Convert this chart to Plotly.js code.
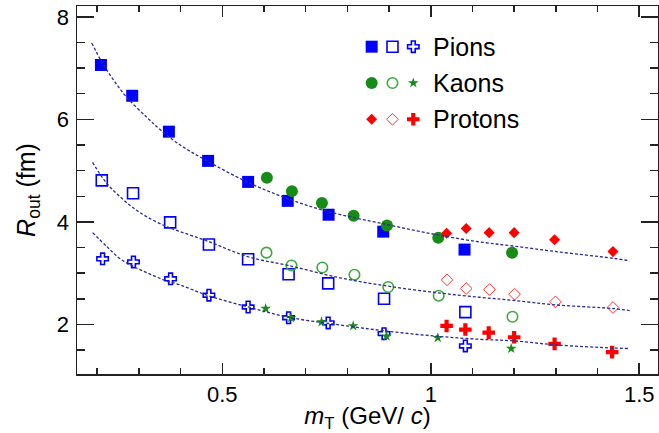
<!DOCTYPE html>
<html>
<head>
<meta charset="utf-8">
<script src="https://cdn.plot.ly/plotly-3.0.1.min.js"></script>
<style>html,body{margin:0;padding:0;background:#fff}#chart{width:659px;height:433px}</style>
</head>
<body>
<div id="chart"></div>
<script>
// ---- data ----
const pionsFilledX = [0.209, 0.284, 0.372, 0.466, 0.562, 0.657, 0.755, 0.886, 1.081];
const pionsFilledY = [7.06, 6.46, 5.76, 5.19, 4.78, 4.41, 4.14, 3.81, 3.46];
const pionsOpenX   = [0.211, 0.286, 0.375, 0.468, 0.562, 0.659, 0.754, 0.888, 1.083];
const pionsOpenY   = [4.81, 4.56, 3.99, 3.56, 3.27, 2.98, 2.80, 2.50, 2.24];
const pionsCrossX  = [0.213, 0.287, 0.376, 0.468, 0.562, 0.659, 0.754, 0.888, 1.083];
const pionsCrossY  = [3.28, 3.22, 2.89, 2.57, 2.34, 2.13, 2.03, 1.82, 1.58];

const kaonsFilledX = [0.607, 0.667, 0.739, 0.815, 0.895, 1.018, 1.195];
const kaonsFilledY = [4.86, 4.60, 4.37, 4.12, 3.93, 3.69, 3.40];
const kaonsOpenX   = [0.606, 0.666, 0.740, 0.817, 0.898, 1.019, 1.196];
const kaonsOpenY   = [3.40, 3.15, 3.11, 2.97, 2.73, 2.56, 2.15];
const kaonsStarX   = [0.604, 0.665, 0.738, 0.814, 0.894, 1.017, 1.193];
const kaonsStarY   = [2.31, 2.13, 2.05, 1.97, 1.77, 1.74, 1.53];

const protonsFilledX = [1.038, 1.085, 1.140, 1.200, 1.297, 1.437];
const protonsFilledY = [3.78, 3.87, 3.79, 3.79, 3.65, 3.42];
const protonsOpenX   = [1.039, 1.085, 1.141, 1.201, 1.299, 1.437];
const protonsOpenY   = [2.87, 2.70, 2.68, 2.59, 2.44, 2.33];
const protonsCrossX  = [1.038, 1.083, 1.139, 1.200, 1.297, 1.435];
const protonsCrossY  = [1.97, 1.90, 1.84, 1.75, 1.62, 1.46];

const fitTopX = [0.187, 0.211, 0.239, 0.271, 0.319, 0.351, 0.399, 0.461, 0.562, 0.658, 0.754, 0.894, 1.014, 1.117, 1.197, 1.301, 1.437, 1.477];
const fitTopY = [7.49, 7.12, 6.77, 6.43, 6.04, 5.80, 5.50, 5.20, 4.77, 4.45, 4.20, 3.95, 3.75, 3.61, 3.53, 3.42, 3.29, 3.24];
const fitMidX = [0.189, 0.223, 0.255, 0.287, 0.319, 0.363, 0.399, 0.463, 0.562, 0.658, 0.782, 0.894, 1.014, 1.117, 1.197, 1.301, 1.437, 1.477];
const fitMidY = [5.16, 4.75, 4.49, 4.27, 4.10, 3.92, 3.81, 3.63, 3.32, 3.15, 2.91, 2.75, 2.62, 2.53, 2.47, 2.38, 2.31, 2.27];
const fitLowX = [0.189, 0.223, 0.255, 0.287, 0.319, 0.359, 0.399, 0.463, 0.562, 0.659, 0.782, 0.894, 1.014, 1.117, 1.197, 1.301, 1.437, 1.477];
const fitLowY = [3.79, 3.52, 3.28, 3.13, 3.01, 2.87, 2.77, 2.57, 2.34, 2.14, 1.99, 1.87, 1.77, 1.71, 1.68, 1.60, 1.54, 1.53];

const speciesNames = ['Pions', 'Kaons', 'Protons'];

// ---- styles ----
const FONT = 'Liberation Sans, Arial, sans-serif';
const BLUE = '#0000ff', GREEN = '#168c16', LGREEN = '#3daa3d', RED = '#ff0000';
const styles = [
  [ {symbol:'square', size:12, color:BLUE, line:{width:0}},
    {symbol:'square-open', size:11, color:BLUE, line:{width:1.6, color:BLUE}},
    {symbol:'cross-open', size:9.5, color:BLUE, line:{width:1.6, color:BLUE}} ],
  [ {symbol:'circle', size:12, color:GREEN, line:{width:0}},
    {symbol:'circle-open', size:10.5, color:LGREEN, line:{width:1.6, color:LGREEN}},
    {symbol:'star', size:8, color:GREEN, line:{width:0}} ],
  [ {symbol:'diamond', size:8.5, color:RED, line:{width:0}},
    {symbol:'diamond-open', size:9, color:'#ff3333', line:{width:1, color:'#ff3333'}},
    {symbol:'cross', size:10.5, color:RED, line:{width:0}} ]
];
const seriesX = [[pionsFilledX, pionsOpenX, pionsCrossX],[kaonsFilledX, kaonsOpenX, kaonsStarX],[protonsFilledX, protonsOpenX, protonsCrossX]];
const seriesY = [[pionsFilledY, pionsOpenY, pionsCrossY],[kaonsFilledY, kaonsOpenY, kaonsStarY],[protonsFilledY, protonsOpenY, protonsCrossY]];

const traces = [];
for (let s = 0; s < 3; s++) {
  for (let k = 0; k < 3; k++) {
    traces.push({x: seriesX[s][k], y: seriesY[s][k], type:'scatter', mode:'markers',
      marker: styles[s][k], showlegend:false, hoverinfo:'x+y', cliponaxis:false});
  }
}
const fits = [[fitTopX, fitTopY],[fitMidX, fitMidY],[fitLowX, fitLowY]];
fits.forEach(f => traces.push({x:f[0], y:f[1], type:'scatter', mode:'lines',
  line:{color:'#2b2b96', width:1.3, dash:'3px,2px', shape:'spline', smoothing:1},
  showlegend:false, hoverinfo:'skip'}));

// legend block drawn on a hidden helper axis (column index x row index)
const annotations = [];
for (let s = 0; s < 3; s++) {
  for (let k = 0; k < 3; k++) {
    traces.push({x:[k], y:[s], xaxis:'x2', yaxis:'y2', type:'scatter', mode:'markers',
      marker: styles[s][k], showlegend:false, hoverinfo:'skip'});
  }
  annotations.push({xref:'x2', yref:'y2', x:2.85, y:s, text:speciesNames[s], showarrow:false,
    xanchor:'left', yanchor:'middle', font:{family:FONT, size:25, color:'#000'}});
}

const axisCommon = {
  showline:true, linecolor:'#222', linewidth:1.5, mirror:'ticks', ticks:'inside',
  tickcolor:'#222', tickwidth:1.5, showgrid:false, zeroline:false,
  tickfont:{family:FONT, size:22, color:'#000'}
};

const layout = {
  width:659, height:433,
  margin:{l:77, r:1, t:6, b:59},
  paper_bgcolor:'#fff', plot_bgcolor:'rgba(0,0,0,0)',
  font:{family:FONT, color:'#000'},
  showlegend:false,
  xaxis: Object.assign({}, axisCommon, {
    range:[0.1516, 1.545], tick0:0, dtick:0.5, ticklen:11,
    minor:{dtick:0.1, ticklen:6, tickwidth:1.5, tickcolor:'#222', ticks:'inside'},
    ticklabelstandoff:0,
    title:{text:'<i>m</i><sub>T</sub> (GeV/ <i>c</i>)', font:{family:FONT, size:24, color:'#000'}, standoff:8}
  }),
  yaxis: Object.assign({}, axisCommon, {
    range:[1.033, 8.211], tick0:0, dtick:2, ticklen:17,
    minor:{dtick:0.5, ticklen:8, tickwidth:1.5, tickcolor:'#222', ticks:'inside'},
    ticklabelstandoff:2,
    title:{text:'<i>R</i><sub>out</sub> (fm)', font:{family:FONT, size:25, color:'#000'}, standoff:14}
  }),
  xaxis2:{domain:[0.4905, 1], range:[-0.466, 13.76], anchor:'y2', visible:false, fixedrange:true},
  yaxis2:{domain:[0.6495, 0.9348], range:[2.433, -0.46], anchor:'x2', visible:false, fixedrange:true},
  annotations: annotations
};

Plotly.newPlot('chart', traces, layout, {displayModeBar:false, staticPlot:true});
</script>
</body>
</html>
